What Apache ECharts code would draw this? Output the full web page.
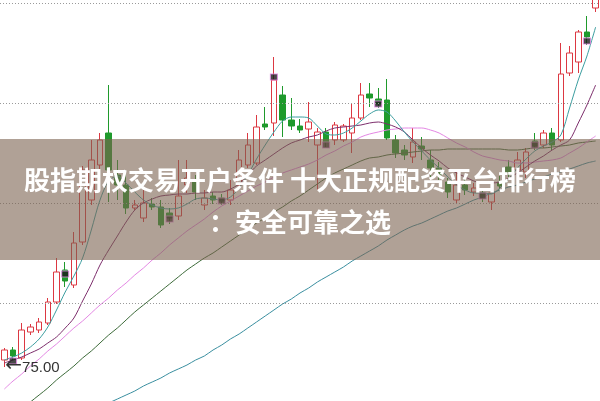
<!DOCTYPE html>
<html><head><meta charset="utf-8">
<script src="https://cdn.jsdelivr.net/npm/echarts@6/dist/echarts.min.js"></script>
<style>html,body{margin:0;padding:0;background:#fff}#c{width:600px;height:401px}</style>
</head><body><div id="c"></div>
<script>
const categories = ['1','2','3','4','5','6','7','8','9','10','11','12','13','14','15','16','17','18','19','20',
  '21','22','23','24','25','26','27','28','29','30','31','32','33','34','35','36','37','38','39','40',
  '41','42','43','44','45','46','47','48','49','50','51','52','53','54','55','56','57','58','59','60',
  '61','62','63','64','65','66','67','68','69'];

const opens = [75.7,76.7,75.9,78.5,78.7,79.4,81.5,84.7,83.2,87.5,
  91.7,95.2,98.4,94.2,93.2,90.9,89.9,91.3,91.0,90.4,
  90.1,93.2,93.5,91.2,92.1,91.9,91.7,93.2,95.2,95.4,
  99.3,99.4,102.2,99.7,99.1,98.8,97.2,98.5,97.7,97.7,
  98.4,99.9,102.3,101.8,101.7,97.7,96.7,96.0,97.1,95.7,
  94.9,93.5,91.7,93.2,92.5,92.4,91.5,93.5,95.0,94.7,
  94.5,97.6,97.2,98.4,97.7,104.4,105.5,108.5,110.9];
const closes = [76.7,76.1,78.7,79.0,79.5,81.5,84.5,83.6,87.4,94.7,
  95.7,97.7,94.7,93.2,90.9,91.2,91.4,91.0,89.2,89.9,
  92.1,93.9,92.5,91.9,91.7,91.6,92.7,95.7,97.2,99.0,
  99.0,103.7,99.7,99.1,98.7,99.5,98.5,97.5,99.2,99.1,
  99.9,102.2,101.9,101.3,97.9,96.4,96.2,97.5,96.8,94.9,
  94.2,92.5,93.2,92.7,92.9,92.0,92.4,93.1,94.5,95.7,
  96.5,97.1,98.4,97.2,104.3,106.4,108.5,108.0,112.7];
const lows = [75.0,75.7,75.7,78.2,78.4,79.2,81.3,83.0,82.9,87.2,
  91.2,94.7,91.5,91.7,90.3,90.7,89.5,90.7,88.9,89.3,
  89.7,92.4,91.7,90.7,91.3,91.2,91.2,92.9,94.9,95.2,
  98.7,98.1,98.0,98.7,98.4,97.5,92.7,97.0,97.2,97.5,
  96.4,99.7,101.0,100.9,97.7,95.9,95.7,95.4,95.7,93.7,
  93.7,91.9,91.4,92.2,92.1,91.5,90.7,92.7,93.9,94.2,
  93.9,96.7,96.9,96.7,97.5,104.1,104.4,107.2,110.5];
const highs = [76.9,77.0,79.4,79.3,79.9,81.9,85.9,85.5,88.5,95.1,
  97.7,98.4,103.2,95.7,94.7,91.7,92.7,91.9,91.7,90.9,
  95.7,95.7,94.2,92.7,92.5,92.3,93.7,96.7,98.4,100.2,
  101.0,106.0,103.1,101.9,99.8,101.5,98.9,98.9,99.5,99.3,
  101.4,103.4,103.4,102.9,103.8,98.2,97.2,98.9,98.0,96.7,
  95.5,93.9,94.7,93.9,93.4,92.9,93.2,94.1,95.7,96.5,
  96.9,98.4,98.7,98.9,107.4,107.1,108.7,110.1,113.2];

const ma5 = [75.7,76.0,76.4,77.0,77.8,79.0,80.7,82.5,84.1,85.9,
  88.7,91.7,93.6,94.1,93.4,92.5,91.7,91.2,90.9,90.8,
  90.9,91.3,91.8,91.9,91.8,91.7,92.0,92.9,94.2,95.8,
  97.2,98.5,99.6,100.0,100.0,99.9,99.1,98.3,98.2,98.4,
  98.9,99.6,100.3,100.7,100.5,99.6,98.5,97.5,96.6,95.7,
  94.9,94.0,93.2,92.7,92.4,92.4,92.3,92.9,93.8,94.9,
  95.8,96.6,97.1,97.5,98.2,100.9,103.7,106.1,109.0];
const ma10 = [75.4,75.7,76.0,76.4,76.8,77.4,78.0,78.9,79.9,81.6,
  83.3,85.2,86.7,88.1,89.5,90.7,91.4,91.8,92.1,92.2,
  92.3,92.3,92.4,92.4,92.5,92.5,92.8,93.3,94.2,95.1,
  95.7,96.3,96.9,97.4,97.7,98.0,98.2,98.6,98.9,99.0,
  99.1,99.2,99.4,99.5,99.3,99.0,98.5,97.7,96.9,96.2,
  95.6,94.9,94.4,94.0,93.6,93.4,93.4,93.5,93.9,94.4,
  95.0,95.6,96.1,96.7,97.2,97.7,99.4,101.2,103.2];
const ma20 = [72.8,73.6,74.3,75.1,75.8,76.6,77.3,78.1,78.9,79.6,
  80.4,81.2,81.9,82.7,83.4,84.2,84.9,85.7,86.4,87.2,
  87.9,88.6,89.2,89.8,90.5,91.1,91.6,92.1,92.6,93.1,
  93.5,94.0,94.4,94.7,95.0,95.3,95.7,96.2,96.6,97.1,
  97.5,98.0,98.3,98.5,98.7,98.8,98.9,98.9,98.9,98.7,
  98.4,97.9,97.4,97.0,96.5,96.1,95.9,95.7,95.6,95.4,
  95.4,95.5,95.6,95.7,95.9,96.4,96.9,97.5,98.1];
const ma60 = [69.3,70.0,70.7,71.5,72.2,72.9,73.7,74.4,75.1,75.9,
  76.6,77.4,78.2,78.9,79.7,80.5,81.2,81.9,82.6,83.3,
  84.0,84.7,85.3,85.9,86.4,87.0,87.6,88.2,88.8,89.4,
  89.9,90.5,91.0,91.6,92.1,92.7,93.3,93.9,94.4,94.8,
  95.2,95.6,95.9,96.0,96.2,96.3,96.4,96.5,96.6,96.7,
  96.7,96.8,96.8,96.8,96.8,96.8,96.8,96.8,96.7,96.7,
  96.8,96.9,96.9,97.0,97.1,97.2,97.4,97.5,97.6];
const ma120 = [66.2,66.6,67.1,67.6,68.0,68.5,68.9,69.3,69.8,70.2,
  70.6,71.0,71.4,71.8,72.2,72.6,73.1,73.5,73.9,74.4,
  74.8,75.2,75.7,76.1,76.7,77.2,77.8,78.3,78.9,79.5,
  80.1,80.7,81.3,81.8,82.4,82.9,83.5,84.0,84.5,85.0,
  85.6,86.1,86.6,87.1,87.7,88.2,88.7,89.1,89.4,89.8,
  90.2,90.6,90.9,91.3,91.7,92.0,92.4,92.7,93.0,93.2,
  93.5,93.8,94.0,94.3,94.5,94.8,95.1,95.4,95.6];

const markerIdx = [1,7,19,25,31,37,43,55,61,67];
const markerVal = [75.6,84.3,89.8,91.6,104.0,97.2,101.3,92.1,97.2,107.6];

const gridLevels = [81.4, 91.4, 101.4, 111.4];
const bannerLines = ['股指期权交易开户条件 十大正规配资平台排行榜', '：安全可靠之选'];

const chart = echarts.init(document.getElementById('c'), null, {renderer: 'canvas'});
const kData = opens.map((o, i) => [o, closes[i], lows[i], highs[i]]);
const maDefs = [
  [ma120, '#3a8fa0'], [ma60, '#3d6b3a'], [ma20, '#e487e4'], [ma10, '#7d2e6c'], [ma5, '#3c9ea0']
];

const option = {
  animation: false,
  backgroundColor: '#ffffff',
  grid: {left: -3.375, right: -0.375, top: 0, bottom: 0},
  xAxis: {type: 'category', data: categories, boundaryGap: true, show: false},
  yAxis: {type: 'value', min: 71.6, max: 111.7, show: false, splitLine: {show: false}},
  series: [
    {
      type: 'candlestick', data: kData, barWidth: 6, z: 2,
      itemStyle: {color: '#ffffff', color0: '#1f9a2c', borderColor: '#dc3842', borderColor0: '#1f9a2c', borderWidth: 1},
      markLine: {
        silent: true, symbol: ['none', 'none'], label: {show: false},
        lineStyle: {color: '#9a9a9a', type: [1, 2], width: 1},
        data: gridLevels.map(v => ({yAxis: v}))
      },
      markPoint: {
        symbol: 'circle', symbolSize: 0,
        data: [{type: 'min', valueDim: 'lowest'}],
        label: {
          show: true, position: 'right', distance: 1,
          formatter: p => '{a|←}{b|' + Number(p.value).toFixed(2) + '}',
          rich: {
            a: {color: '#333333', fontSize: 20, fontFamily: 'DejaVu Sans', padding: [0, 0, 2, 0]},
            b: {color: '#333333', fontSize: 15, fontFamily: 'Liberation Sans, sans-serif', padding: [2, 0, 0, 0]}
          }
        }
      }
    },
    ...maDefs.map(([d, c]) => ({
      type: 'line', data: d, symbol: 'none', smooth: 0.3, z: 3,
      lineStyle: {color: c, width: 1}
    })),
    {
      type: 'scatter', data: markerIdx.map((x, i) => [x, markerVal[i]]),
      symbol: 'rect', symbolSize: [7, 6], z: 4,
      itemStyle: {color: '#1b1b1b', borderColor: '#e38ae3', borderWidth: 1}
    }
  ],
  graphic: [
    {type: 'rect', left: 0, top: 139, z: 100, shape: {width: 600, height: 121}, style: {fill: 'rgba(123,98,80,0.6)'}},
    {type: 'text', x: 300, y: 180, z: 101, style: {text: bannerLines[0], fill: '#ffffff', font: 'bold 26px "Noto Sans CJK SC"', textAlign: 'center', textVerticalAlign: 'middle', align: 'center', verticalAlign: 'middle'}},
    {type: 'text', x: 300, y: 222, z: 101, style: {text: bannerLines[1], fill: '#ffffff', font: 'bold 26px "Noto Sans CJK SC"', textAlign: 'center', textVerticalAlign: 'middle', align: 'center', verticalAlign: 'middle'}}
  ]
};
chart.setOption(option);
</script>
</body></html>
